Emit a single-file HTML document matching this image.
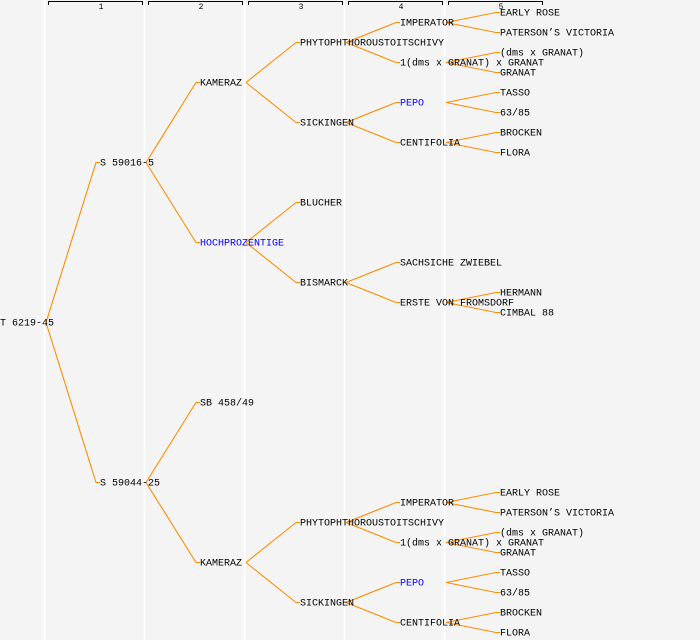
<!DOCTYPE html>
<html><head><style>
html,body{margin:0;padding:0;background:#f4f4f4;}
svg{display:block;}
text{font-family:"Liberation Mono",monospace;font-size:10px;fill:#000;}
.b{fill:#0000ff;}
</style></head><body>
<svg width="700" height="640" xmlns="http://www.w3.org/2000/svg">
<rect width="700" height="640" fill="#f4f4f4"/>
<g stroke="#ffffff" stroke-width="1.5">
<line x1="44.5" y1="0" x2="44.5" y2="640"/>
<line x1="144.5" y1="0" x2="144.5" y2="640"/>
<line x1="244.5" y1="0" x2="244.5" y2="640"/>
<line x1="344.5" y1="0" x2="344.5" y2="640"/>
<line x1="444.5" y1="0" x2="444.5" y2="640"/>
</g>
<g stroke="#000" fill="none" stroke-width="1">
<path d="M48.5,5 V1.5 H142.5 V5"/>
<path d="M148.5,5 V1.5 H242.5 V5"/>
<path d="M248.5,5 V1.5 H342.5 V5"/>
<path d="M348.5,5 V1.5 H442.5 V5"/>
<path d="M448.5,5 V1.5 H542.5 V5"/>
</g>
<g text-anchor="middle">
<text x="101" y="9" style="font-size:8px">1</text>
<text x="201" y="9" style="font-size:8px">2</text>
<text x="301" y="9" style="font-size:8px">3</text>
<text x="401" y="9" style="font-size:8px">4</text>
<text x="501" y="9" style="font-size:8px">5</text>
</g>
<g stroke="#ff8c00" fill="none" stroke-width="1.1" id="L"></g>
<g id="T"></g>
<script>
var n=[
[0,322,"T 6219-45",-1],
[1,162,"S 59016-5",0],
[2,82,"KAMERAZ",1],
[3,42,"PHYTOPHTHOROUSTOITSCHIVY",2],
[4,22,"IMPERATOR",3],
[5,12,"EARLY ROSE",4],
[5,32,"PATERSON\u2019S VICTORIA",4],
[4,62,"1(dms x GRANAT) x GRANAT",3],
[5,52,"(dms x GRANAT)",7],
[5,72,"GRANAT",7],
[3,122,"SICKINGEN",2],
[4,102,"PEPO",10,1],
[5,92,"TASSO",11],
[5,112,"63/85",11],
[4,142,"CENTIFOLIA",10],
[5,132,"BROCKEN",14],
[5,152,"FLORA",14],
[2,242,"HOCHPROZENTIGE",1,1],
[3,202,"BLUCHER",17],
[3,282,"BISMARCK",17],
[4,262,"SACHSICHE ZWIEBEL",19],
[4,302,"ERSTE VON FROMSDORF",19],
[5,292,"HERMANN",21],
[5,312,"CIMBAL 88",21],
[1,482,"S 59044-25",0],
[2,402,"SB 458/49",24],
[2,562,"KAMERAZ",24],
[3,522,"PHYTOPHTHOROUSTOITSCHIVY",26],
[4,502,"IMPERATOR",27],
[5,492,"EARLY ROSE",28],
[5,512,"PATERSON\u2019S VICTORIA",28],
[4,542,"1(dms x GRANAT) x GRANAT",27],
[5,532,"(dms x GRANAT)",31],
[5,552,"GRANAT",31],
[3,602,"SICKINGEN",26],
[4,582,"PEPO",34,1],
[5,572,"TASSO",35],
[5,592,"63/85",35],
[4,622,"CENTIFOLIA",34],
[5,612,"BROCKEN",38],
[5,632,"FLORA",38]
];
var NS="http://www.w3.org/2000/svg",L=document.getElementById("L"),T=document.getElementById("T");
n.forEach(function(a){
 var x=a[0]*100,y=a[1];
 if(a[3]>=0){var p=n[a[3]];var px=p[0]*100+46,py=p[1];
  var e=document.createElementNS(NS,"polyline");
  e.setAttribute("points",px+","+(py+0.5)+" "+(x-4)+","+(y+0.5)+" "+x+","+(y+0.5));L.appendChild(e);}
 var t=document.createElementNS(NS,"text");t.setAttribute("x",x);t.setAttribute("y",y+3.5);
 if(a[4])t.setAttribute("class","b");t.textContent=a[2];T.appendChild(t);
});
</script>
</svg>
</body></html>
